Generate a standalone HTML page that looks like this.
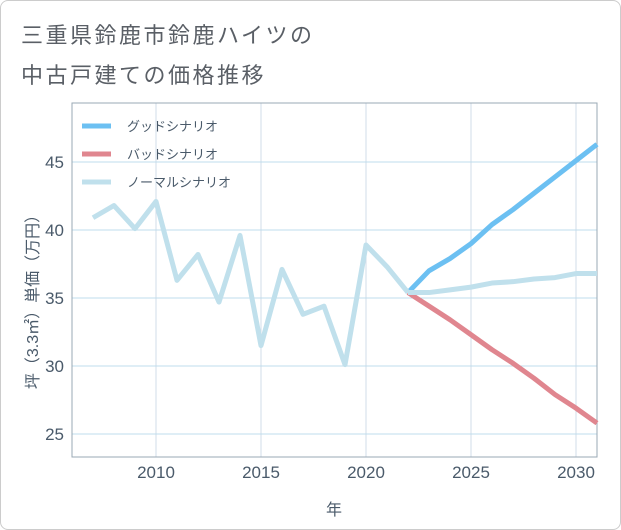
<!DOCTYPE html>
<html><head><meta charset="utf-8"><style>
body{margin:0;background:#fff;font-family:"Liberation Sans","Noto Sans CJK JP",sans-serif}
#wrap{position:relative;width:619px;height:528px;border:1px solid #ccc;border-radius:8px;overflow:hidden}
.t{position:absolute;left:20px;font-size:22px;color:#5a5f66;letter-spacing:2.5px}
</style></head><body>
<div id="wrap">
<div class="t" style="top:17px">三重県鈴鹿市鈴鹿ハイツの</div>
<div class="t" style="top:57px">中古戸建ての価格推移</div>
<svg id="c" width="621" height="530" style="position:absolute;left:-1px;top:-1px"></svg>
</div>
<script>
const histYears=[2007,2008,2009,2010,2011,2012,2013,2014,2015,2016,2017,2018,2019,2020,2021,2022];
const histValues=[40.9,41.8,40.1,42.1,36.3,38.2,34.7,39.6,31.5,37.1,33.8,34.4,30.1,38.9,37.3,35.4];
const projYears=[2022,2023,2024,2025,2026,2027,2028,2029,2030,2031];
const goodValues=[35.4,37.0,37.9,39.0,40.4,41.5,42.7,43.9,45.1,46.3];
const badValues=[35.4,34.4,33.4,32.3,31.2,30.2,29.1,27.9,26.9,25.8];
const normalValues=[35.4,35.4,35.6,35.8,36.1,36.2,36.4,36.5,36.8,36.8];
const xTicks=[2010,2015,2020,2025,2030];
const yTicks=[25,30,35,40,45];
const seriesNames=["グッドシナリオ","バッドシナリオ","ノーマルシナリオ"];
const L=72,R=597,T=103,B=457;
const x=v=>156+(v-2010)*21;
const y=v=>162+(45-v)*13.6;
const svg=document.getElementById('c');
const NS='http://www.w3.org/2000/svg';
function mk(tag,attrs){const e=document.createElementNS(NS,tag);for(const k in attrs)e.setAttribute(k,attrs[k]);svg.appendChild(e);return e;}
xTicks.forEach(t=>{const l=mk('line',{x1:x(t),x2:x(t),y1:T,y2:B,stroke:'#d0dce8','stroke-width':1});


const tx=mk('text',{x:x(t),y:478,'text-anchor':'middle','font-size':17,fill:'#4a5a6a'});tx.textContent=t;

});
yTicks.forEach(t=>{const l=mk('line',{x1:L,x2:R,y1:y(t),y2:y(t),stroke:'#bfdcec','stroke-width':1});


const tx=mk('text',{x:64,y:y(t)+6,'text-anchor':'end','font-size':17,fill:'#4a5a6a'});tx.textContent=t;

});
const ax=mk('path',{d:`M${L} ${T}V${B}H${R}V${T}Z`,fill:'none',stroke:'#9aa8b4','stroke-width':1});


function line(xs,vs,color,name){const p=mk('polyline',{points:xs.map((v,i)=>x(v)+','+y(vs[i])).join(' '),fill:'none',stroke:color,'stroke-width':5,'stroke-linejoin':'round'});

}
line(projYears,badValues,'#e0868f','bad-scenario-line');
line(projYears,goodValues,'#6cc0f2','good-scenario-line');
line(histYears,histValues,'#c0e0ec','historical-line');
line(projYears,normalValues,'#c0e0ec','normal-scenario-line');
const cols=['#6cc0f2','#e0868f','#c0e0ec'];
seriesNames.forEach((n,i)=>{const yy=126+i*28;
const r=mk('line',{x1:82,x2:111,y1:yy,y2:yy,stroke:cols[i],'stroke-width':5});


const tx=mk('text',{x:127,y:yy+5,'font-size':13,fill:'#4a5a6a'});tx.textContent=n;

});
const xt=mk('text',{x:334,y:515,'text-anchor':'middle','font-size':16,fill:'#4a5a6a'});xt.textContent='年';


const yt=mk('text',{x:0,y:0,'text-anchor':'middle','font-size':16,fill:'#4a5a6a',transform:'translate(38,298) rotate(-90)'});yt.textContent='坪（3.3㎡）単価（万円）';


</script>
</body></html>
